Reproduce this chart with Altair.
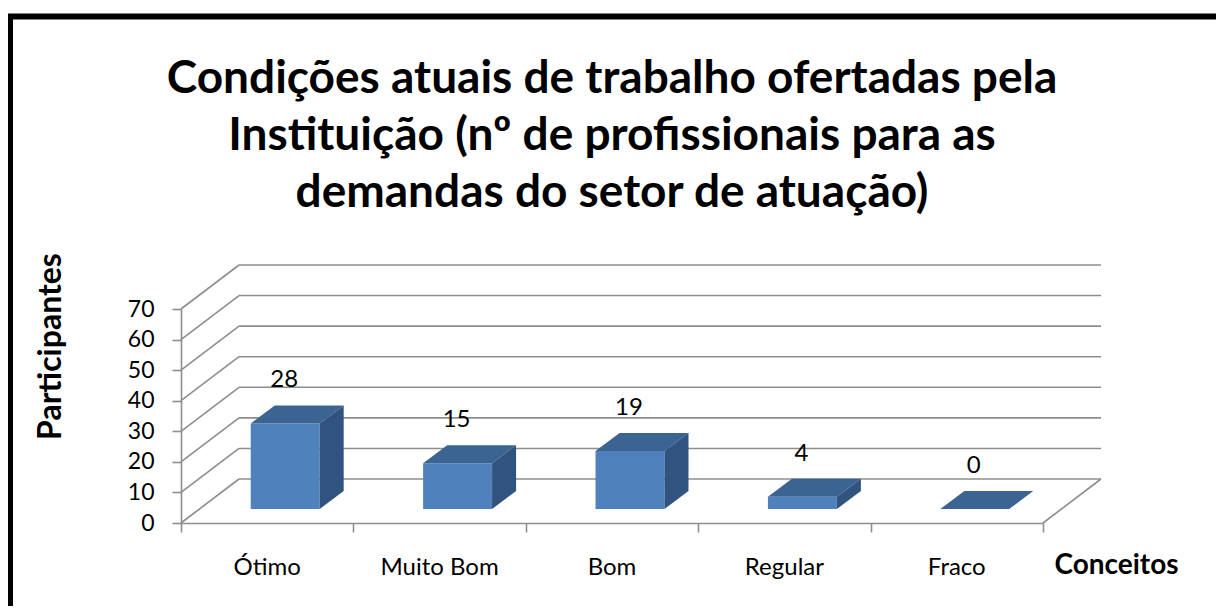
import altair as alt
import pandas as pd

# ---------------- data ----------------
categories = ["Ótimo", "Muito Bom", "Bom", "Regular", "Fraco"]
values = [28, 15, 19, 4, 0]
y_ticks = [0, 10, 20, 30, 40, 50, 60, 70]
x_ticks = [0, 1, 2, 3, 4, 5]
title_lines = [
    "Condições atuais de trabalho ofertadas pela",
    "Instituição (nº de profissionais para as",
    "demandas do setor de atuação)",
]
y_title = "Participantes"
x_title = "Conceitos"

# ---------------- styling / geometry ----------------
W, H = 862, 214
YMAX = 70
NCAT = len(categories)
WALL_DX, WALL_DY = 58, -44     # back wall offset (px)
BAR_DX, BAR_DY = 18, -14       # bar front-face placement in depth (px)
DEPTH_DX, DEPTH_DY = 24, -18   # bar depth (px)
BAR_HALF = 0.2                 # half bar width (category units)

FRONT = "#4F81BD"
TOP = "#3C6493"
SIDE = "#30537F"
GRID = "#8E8E8E"
FONT = "Lato"

px_per_cat = W / NCAT
px_per_val = H / YMAX
ddx = DEPTH_DX / px_per_cat
ddy = -DEPTH_DY / px_per_val

xs = alt.Scale(domain=[0, NCAT], nice=False, zero=False)
ys = alt.Scale(domain=[0, YMAX], nice=False, zero=False)

centers = [i + 0.5 for i in range(NCAT)]
bars = pd.DataFrame({
    "cat": categories, "value": values, "c": centers,
    "x0": [c - BAR_HALF for c in centers], "x1": [c + BAR_HALF for c in centers],
    "base": [0] * NCAT,
})

side_rows, top_rows = [], []
for name, v, c in zip(categories, values, centers):
    x0, x1 = c - BAR_HALF, c + BAR_HALF
    side_rows.append({"cat": name, "x": x1, "y0": 0.0, "y1": float(v)})
    side_rows.append({"cat": name, "x": x1 + ddx, "y0": ddy, "y1": v + ddy})
    top_rows.append({"cat": name, "y": float(v), "xa": x0, "xb": x1})
    top_rows.append({"cat": name, "y": v + ddy, "xa": x0 + ddx, "xb": x1 + ddx})
side_df = pd.DataFrame(side_rows)
top_df = pd.DataFrame(top_rows)
ticks_df = pd.DataFrame({"v": y_ticks, "x": [0] * len(y_ticks)})

# ---------------- layers ----------------
# invisible layer that carries the front axes
axes = alt.Chart(ticks_df).mark_point(opacity=0).encode(
    x=alt.X("x:Q", scale=xs, axis=alt.Axis(
        values=x_ticks, labels=False, ticks=True, tickSize=9, tickColor=GRID,
        tickWidth=1.6, domainColor=GRID, domainWidth=1.6, grid=False,
        title=x_title, titleFont=FONT, titleFontSize=28, titleFontWeight="bold",
        titleColor="#000", titleX=935, titleY=42, titleAlign="center",
        titleBaseline="middle", titleAngle=0)),
    y=alt.Y("v:Q", scale=ys, axis=alt.Axis(
        values=y_ticks, tickCount=8, tickSize=9, tickColor=GRID, tickWidth=1.6,
        domainColor=GRID, domainWidth=1.6, grid=False, labelOverlap=False,
        labelFont=FONT, labelFontSize=23, labelColor="#000", labelPadding=18,
        title=y_title, titleFont=FONT, titleFontSize=32, titleFontWeight="bold",
        titleColor="#000", titleAngle=-90, titleX=-121, titleY=37,
        titleAlign="center", titleBaseline="alphabetic")),
)

back_grid = alt.Chart(ticks_df).mark_rule(
    color=GRID, strokeWidth=1.6,
    xOffset=WALL_DX, x2Offset=WALL_DX, yOffset=WALL_DY
).encode(
    x=alt.X("x:Q", scale=xs, axis=None), x2=alt.datum(NCAT),
    y=alt.Y("v:Q", scale=ys, axis=None),
)

diag = alt.Chart(ticks_df).mark_rule(
    color=GRID, strokeWidth=1.6, x2Offset=WALL_DX, y2Offset=WALL_DY
).encode(
    x=alt.X("x:Q", scale=xs, axis=None), x2="x:Q",
    y=alt.Y("v:Q", scale=ys, axis=None), y2="v:Q",
)

floor_r = alt.Chart(pd.DataFrame({"x": [NCAT], "v": [0]})).mark_rule(
    color=GRID, strokeWidth=1.6, x2Offset=WALL_DX, y2Offset=WALL_DY
).encode(
    x=alt.X("x:Q", scale=xs, axis=None), x2="x:Q",
    y=alt.Y("v:Q", scale=ys, axis=None), y2="v:Q",
)

front = alt.Chart(bars).mark_rect(
    color=FRONT, xOffset=BAR_DX, x2Offset=BAR_DX, yOffset=BAR_DY, y2Offset=BAR_DY
).encode(
    x=alt.X("x0:Q", scale=xs, axis=None), x2="x1:Q",
    y=alt.Y("value:Q", scale=ys, axis=None), y2="base:Q",
)

side = alt.Chart(side_df).mark_area(
    color=SIDE, orient="vertical", xOffset=BAR_DX, yOffset=BAR_DY, y2Offset=BAR_DY
).encode(
    x=alt.X("x:Q", scale=xs, axis=None),
    y=alt.Y("y1:Q", scale=ys, axis=None, stack=None), y2="y0:Q",
    detail="cat:N",
)

top = alt.Chart(top_df).mark_area(
    color=TOP, orient="horizontal", xOffset=BAR_DX, x2Offset=BAR_DX, yOffset=BAR_DY
).encode(
    y=alt.Y("y:Q", scale=ys, axis=None),
    x=alt.X("xa:Q", scale=xs, axis=None, stack=None), x2="xb:Q",
    detail="cat:N",
)

value_labels = alt.Chart(bars).mark_text(
    font=FONT, fontSize=24, color="#000", baseline="middle", align="center",
    dx=BAR_DX - 1, dy=BAR_DY - 43
).encode(
    x=alt.X("c:Q", scale=xs, axis=None),
    y=alt.Y("value:Q", scale=ys, axis=None),
    text=alt.Text("value:Q", format="d"),
)

cat_labels = alt.Chart(bars).mark_text(
    font=FONT, fontSize=24, color="#000", baseline="middle", align="center", dy=45
).encode(
    x=alt.X("c:Q", scale=xs, axis=None),
    y=alt.Y("base:Q", scale=ys, axis=None),
    text="cat:N",
)

frame_df = pd.DataFrame({"k": [0]})
frame_top = alt.Chart(frame_df).mark_rule(color="#000", strokeWidth=6).encode(
    x=alt.value(-176), x2=alt.value(1045), y=alt.value(-292.5), y2=alt.value(-292.5))
frame_left = alt.Chart(frame_df).mark_rule(color="#000", strokeWidth=6).encode(
    x=alt.value(-171), x2=alt.value(-171), y=alt.value(-295), y2=alt.value(300))

chart = alt.layer(
    axes, back_grid, diag, floor_r, front, top, side, value_labels, cat_labels,
    frame_top, frame_left,
).resolve_axis(
    x="independent", y="independent"
).properties(
    width=W, height=H,
    title=alt.TitleParams(
        title_lines, font=FONT, fontSize=46, fontWeight="bold", color="#000",
        lineHeight=57, anchor="middle", frame="group", offset=0, dy=206),
    autosize=alt.AutoSizeParams(type="none"),
    padding={"left": 173, "top": 301, "right": 173, "bottom": 83},
).configure(font=FONT).configure_view(strokeWidth=0)

chart.save("out.html", embed_options={"renderer": "svg", "actions": False})
